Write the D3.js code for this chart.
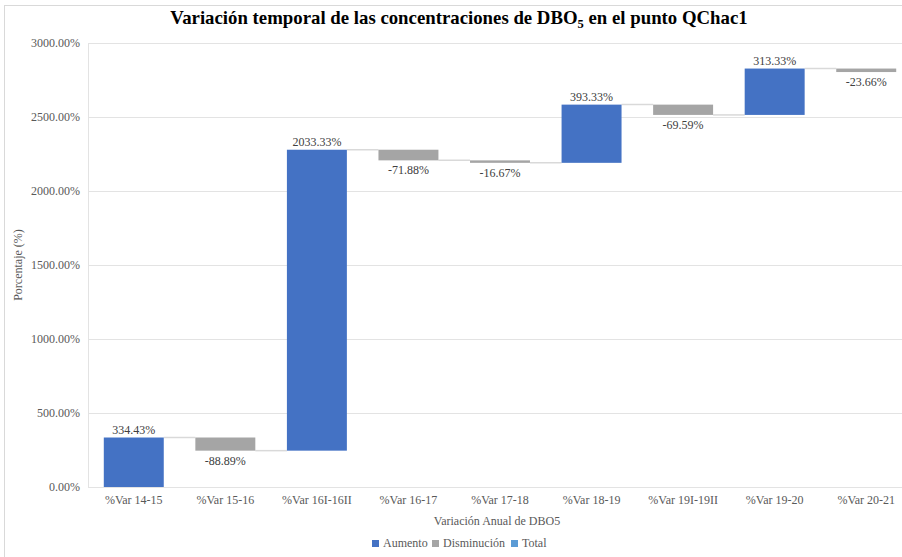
<!DOCTYPE html>
<html>
<head>
<meta charset="utf-8">
<script src="https://cdn.jsdelivr.net/npm/d3@7"></script>
<style>
  body { margin: 0; background: #fff; }
  svg text { font-family: "Liberation Serif", "Times New Roman", Times, "DejaVu Serif", serif !important; }
</style>
</head>
<body>
<svg id="chart" width="902" height="557"></svg>
<script>
// Annual variation of DBO5 at point QChac1 (waterfall)
const categories = ["%Var 14-15", "%Var 15-16", "%Var 16I-16II", "%Var 16-17", "%Var 17-18",
                    "%Var 18-19", "%Var 19I-19II", "%Var 19-20", "%Var 20-21"];
const changes = [334.43, -88.89, 2033.33, -71.88, -16.67, 393.33, -69.59, 313.33, -23.66];
const yTicks = [0, 500, 1000, 1500, 2000, 2500, 3000];
const legendLabels = ["Aumento", "Disminución", "Total"];
const legendColors = ["#4472C4", "#A5A5A5", "#5B9BD5"];

const svg = d3.select("#chart");
const W = 902, H = 557;
const m = { left: 88, right: -10, top: 43, bottom: 70 };

// number format with a plain hyphen for negatives
const fmt = d3.formatLocale({ decimal: ".", thousands: ",", grouping: [3], currency: ["", ""], minus: "-" }).format(".2f");
const pct = d => fmt(d) + "%";

// running totals
let run = 0;
const steps = changes.map((v, i) => {
  const start = run;
  run += v;
  return { cat: categories[i], v, start, end: run };
});

// outer chart border
svg.append("rect").attr("x", 4.5).attr("y", 5.5).attr("width", W + 10).attr("height", H + 10)
  .attr("fill", "none").attr("stroke", "#d9d9d9").attr("stroke-width", 1);

const x = d3.scaleBand().domain(categories)
  .range([m.left, W - m.right])
  .paddingInner(0.345).paddingOuter(0.1725);
const y = d3.scaleLinear().domain([0, 3000]).range([H - m.bottom, m.top]);

// gridlines
svg.append("g").selectAll("line").data(yTicks).join("line")
  .attr("x1", m.left).attr("x2", W)
  .attr("y1", d => y(d) + 0.5).attr("y2", d => y(d) + 0.5)
  .attr("stroke", "#e3e3e3").attr("stroke-width", 1);
svg.append("line").attr("x1", m.left + 0.5).attr("x2", m.left + 0.5)
  .attr("y1", y(3000)).attr("y2", y(0)).attr("stroke", "#e3e3e3");

// y axis labels
const yAxis = d3.axisLeft(y).tickValues(yTicks).tickSize(0).tickPadding(6).tickFormat(pct);
svg.append("g").attr("transform", `translate(${m.left - 2},0)`).call(yAxis)
  .call(g => g.select(".domain").remove())
  .call(g => g.selectAll("text").attr("font-size", 12).attr("fill", "#595959"));

// x axis labels
const xAxis = d3.axisBottom(x).tickSize(0).tickPadding(8);
svg.append("g").attr("transform", `translate(0,${y(0)})`).call(xAxis)
  .call(g => g.select(".domain").remove())
  .call(g => g.selectAll("text").attr("font-size", 12).attr("fill", "#595959"));

// connectors between consecutive bars
svg.append("g").selectAll("line").data(steps.slice(0, -1)).join("line")
  .attr("x1", d => x(d.cat) + x.bandwidth())
  .attr("x2", (d, i) => x(categories[i + 1]))
  .attr("y1", d => y(d.end)).attr("y2", d => y(d.end))
  .attr("stroke", "#d9d9d9").attr("stroke-width", 1.5);

// bars
svg.append("g").selectAll("rect").data(steps).join("rect")
  .attr("x", d => x(d.cat))
  .attr("width", x.bandwidth())
  .attr("y", d => y(Math.max(d.start, d.end)))
  .attr("height", d => Math.abs(y(d.start) - y(d.end)))
  .attr("fill", d => d.v >= 0 ? legendColors[0] : legendColors[1]);

// value labels
svg.append("g").selectAll("text").data(steps).join("text")
  .attr("x", d => x(d.cat) + x.bandwidth() / 2)
  .attr("y", d => d.v >= 0 ? y(d.end) - 4 : y(d.end) + 14)
  .attr("text-anchor", "middle")
  .attr("font-size", 12).attr("fill", "#404040")
  .text(d => pct(d.v));

// title
const title = svg.append("text").attr("x", 459).attr("y", 24).attr("text-anchor", "middle")
  .attr("font-size", 18.8).attr("font-weight", "bold").attr("fill", "#000");
title.append("tspan").text("Variación temporal de las concentraciones de DBO");
title.append("tspan").attr("font-size", 12.5).attr("dy", 4).text("5");
title.append("tspan").attr("dy", -4).text(" en el punto QChac1");

// axis titles
svg.append("text").attr("x", 497).attr("y", 525).attr("text-anchor", "middle")
  .attr("font-size", 12).attr("fill", "#595959").text("Variación Anual de DBO5");
svg.append("text").attr("transform", `translate(22,${(y(0) + y(3000)) / 2}) rotate(-90)`)
  .attr("text-anchor", "middle").attr("font-size", 12).attr("fill", "#595959").text("Porcentaje (%)");

// legend
const legend = svg.append("g").attr("transform", "translate(372,547)");
let lx = 0;
const legendWidths = [60, 79, 40];
legendLabels.forEach((lab, i) => {
  const g = legend.append("g").attr("transform", `translate(${lx},0)`);
  g.append("rect").attr("x", 0).attr("y", -7).attr("width", 7).attr("height", 7).attr("fill", legendColors[i]);
  g.append("text").attr("x", 11).attr("y", 0).attr("font-size", 12).attr("fill", "#595959").text(lab);
  lx += legendWidths[i];
});
</script>
</body>
</html>
